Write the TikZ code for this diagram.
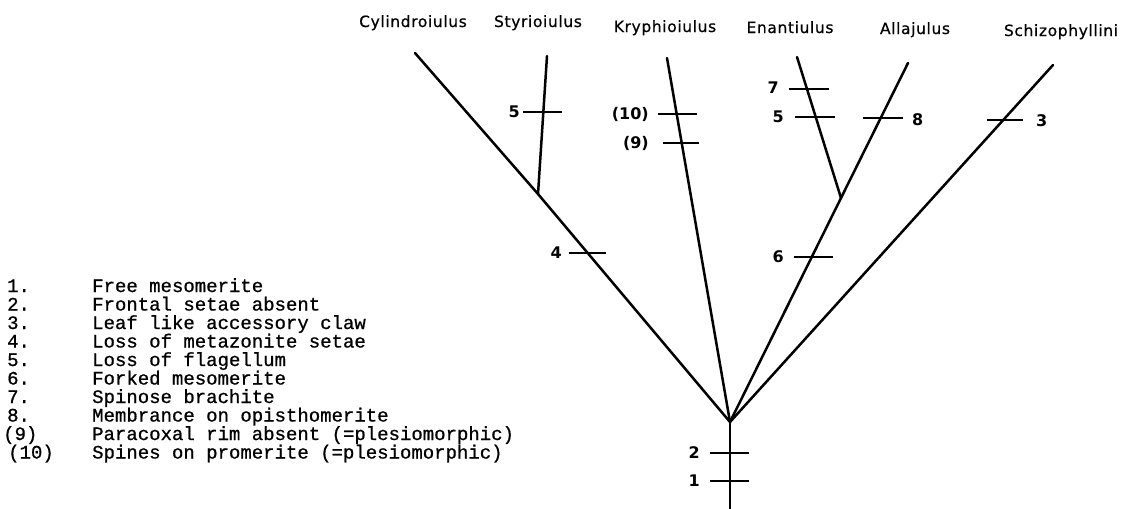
\documentclass[tikz,border=0pt]{standalone}
\usepackage{fontspec}
\newfontfamily\taxfont[FakeBold=0.6, LetterSpace=4]{DejaVu Sans}
\newfontfamily\chfont{DejaVu Sans Bold}
\newfontfamily\legfont[FakeBold=0.8]{Liberation Mono}
\tikzset{
  x=1pt, y=-1pt,
  branch/.style={line width=2.5pt, line cap=round},
  tickmark/.style={line width=2.5pt},
  taxon/.style={font=\taxfont\fontsize{15.5}{18}\selectfont, anchor=base, inner sep=0pt},
  chlabel/.style={font=\chfont\fontsize{16}{18}\selectfont, inner sep=0pt},
  legnum/.style={font=\legfont\fontsize{19}{21}\selectfont, anchor=base west, inner sep=0pt},
  legtext/.style={font=\legfont\fontsize{19}{21}\selectfont, anchor=base west, inner sep=0pt},
}
\begin{document}
\begin{tikzpicture}
\useasboundingbox (0,0) rectangle (1136,509);
% taxon labels
\node[taxon] (tcyl) at (413,27) {Cylindroiulus};
\node[taxon] (tsty) at (538,27) {Styrioiulus};
\node[taxon] (tkry) at (665,32) {Kryphioiulus};
\node[taxon] (tena) at (790,33) {Enantiulus};
\node[taxon] (tall) at (915,34) {Allajulus};
\node[taxon] (tsch) at (1061,36) {Schizophyllini};
% tree coordinates
\coordinate (root) at (730,422);
\coordinate (base) at (730,509);
\coordinate (jsty) at (538,194);
\coordinate (jfork) at (841,198);
\coordinate (cyl) at (415,53);
\coordinate (sty) at (547,56);
\coordinate (kry) at (667,58);
\coordinate (ena) at (797,57);
\coordinate (all) at (908,63);
\coordinate (sch) at (1053,65);
% branches
\draw[branch] (base) -- (root);
\draw[branch] (root) -- (jsty) -- (cyl);
\draw[branch] (jsty) -- (sty);
\draw[branch] (root) -- (kry);
\draw[branch] (root) -- (jfork) -- (all);
\draw[branch] (jfork) -- (ena);
\draw[branch] (root) -- (sch);
% character ticks
\draw[tickmark] (710,453) -- (749,453); \node[chlabel, anchor=east] (c2) at (700,453) {2};
\draw[tickmark] (710,481) -- (749,481); \node[chlabel, anchor=east] (c1) at (700,481) {1};
\draw[tickmark] (523,112) -- (562,112); \node[chlabel, anchor=east] (c5a) at (520,112) {5};
\draw[tickmark] (569,253) -- (606,253); \node[chlabel, anchor=east] (c4) at (562,253) {4};
\draw[tickmark] (658,114) -- (697,114); \node[chlabel, anchor=east] (c10) at (649,114) {(10)};
\draw[tickmark] (663,143) -- (699,143); \node[chlabel, anchor=east] (c9) at (649,143) {(9)};
\draw[tickmark] (789,89) -- (829,89); \node[chlabel, anchor=east] (c7) at (779,88) {7};
\draw[tickmark] (795,117) -- (835,117); \node[chlabel, anchor=east] (c5b) at (784,117) {5};
\draw[tickmark] (794,257) -- (833,257); \node[chlabel, anchor=east] (c6) at (784,257) {6};
\draw[tickmark] (863,118) -- (903,118); \node[chlabel, anchor=west] (c8) at (912,120) {8};
\draw[tickmark] (987,120) -- (1023,120); \node[chlabel, anchor=west] (c3) at (1036,121) {3};
% legend
\node[legnum] (n1) at (7,292) {1.};
\node[legnum] (n2) at (7,310.5) {2.};
\node[legnum] (n3) at (7,329) {3.};
\node[legnum] (n4) at (7,347.5) {4.};
\node[legnum] (n5) at (7,366) {5.};
\node[legnum] (n6) at (7,384.5) {6.};
\node[legnum] (n7) at (7,403) {7.};
\node[legnum] (n8) at (7,421.5) {8.};
\node[legnum] (n9) at (3,440) {(9)};
\node[legnum] (n10) at (8,458.5) {(10)};
\node[legtext] (l1) at (92,292) {Free mesomerite};
\node[legtext] (l2) at (92,310.5) {Frontal setae absent};
\node[legtext] (l3) at (92,329) {Leaf like accessory claw};
\node[legtext] (l4) at (92,347.5) {Loss of metazonite setae};
\node[legtext] (l5) at (92,366) {Loss of flagellum};
\node[legtext] (l6) at (92,384.5) {Forked mesomerite};
\node[legtext] (l7) at (92,403) {Spinose brachite};
\node[legtext] (l8) at (92,421.5) {Membrance on opisthomerite};
\node[legtext] (l9) at (92,440) {Paracoxal rim absent (=plesiomorphic)};
\node[legtext] (l10) at (92,458.5) {Spines on promerite (=plesiomorphic)};
\end{tikzpicture}
\end{document}
